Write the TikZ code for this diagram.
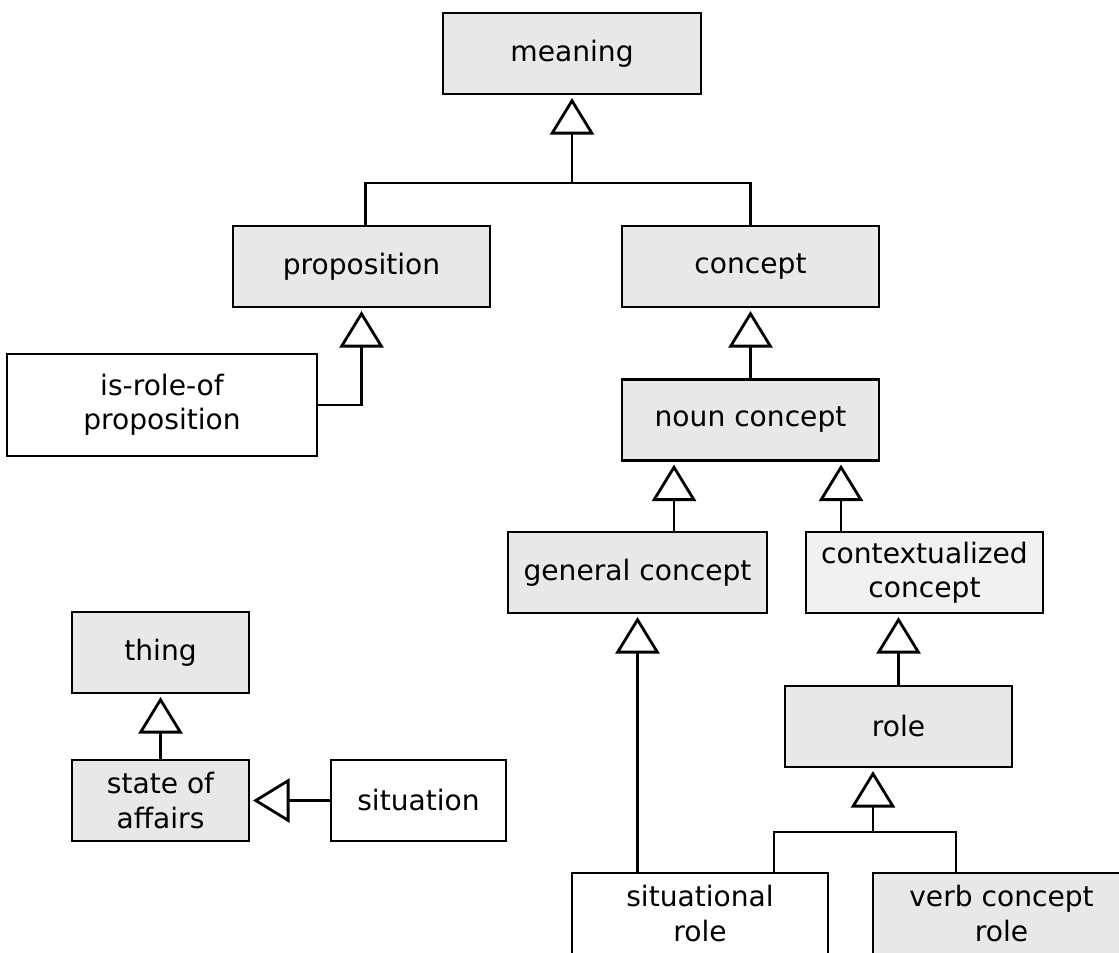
\documentclass[tikz,border=0pt]{standalone}
\usepackage{fontspec}
\setmainfont{DejaVu Sans}
\usetikzlibrary{positioning,arrows.meta}
\definecolor{boxgray}{HTML}{E8E8E8}
\definecolor{boxlight}{HTML}{F1F1F1}

\begin{document}
\begin{tikzpicture}[
  font=\fontsize{16pt}{19.5pt}\selectfont,
  line width=1.6pt,
  box/.style={draw,align=center,minimum height=16.2mm,inner sep=2pt},
  cls/.style={box,fill=boxgray},
  plain/.style={box,fill=white},
  gen/.style={-{Triangle[open,length=7.3mm,width=8.8mm]},shorten >=1.5pt}]
  \useasboundingbox (0,0) rectangle (22.38,19.04);
  \node[cls,minimum width=51.6mm]   (meaning)   at (11.44,17.97) {meaning};
  \node[cls,minimum width=51.4mm]   (prop)      at (7.23,13.71)  {proposition};
  \node[cls,minimum width=51.4mm]   (concept)   at (15.01,13.71) {concept};
  \node[plain,minimum width=62mm,minimum height=20.4mm]
                                    (isrole)    at (3.24,10.94)  {is-role-of\\proposition};
  \node[cls,minimum width=51.4mm]   (noun)      at (15.01,10.64) {noun concept};
  \node[cls,minimum width=51.8mm]   (general)   at (12.75,7.59)  {general concept};
  \node[box,fill=boxlight,minimum width=47.4mm]
                                    (context)   at (18.49,7.59)  {contextualized\\concept};
  \node[cls,minimum width=45.4mm]   (role)      at (17.97,4.51)  {role};
  \node[cls,minimum width=35.4mm]   (thing)     at (3.21,5.99)   {thing};
  \node[cls,minimum width=35.4mm]   (soa)       at (3.21,3.03)   {state of\\affairs};
  \node[plain,minimum width=35mm]   (situation) at (8.37,3.03)   {situation};
  \node[plain,minimum width=51.2mm] (sitrole)   at (14.00,0.77)  {situational\\role};
  \node[cls,minimum width=51.4mm]   (verbrole)  at (20.03,0.77)  {verb concept\\role};
  % generalization sets
  \coordinate (mj) at (11.44,15.38);
  \draw[gen] (mj) -- (meaning.south);
  \draw ([xshift=0.08cm]prop.north) |- (mj) -| (concept.north);
  \coordinate (rj) at (17.46,2.40);
  \coordinate (sj) at ([xshift=1.48cm]sitrole.north);
  \coordinate (vj) at ([xshift=-0.91cm]verbrole.north);
  \draw[gen] (rj) -- (rj |- role.south);
  \draw (sj) |- (rj) -| (vj);
  % single generalizations
  \foreach \a/\b in {noun/concept,soa/thing,role/context}
    \draw[gen] (\a.north) -- (\a.north |- \b.south);
  \draw[gen] (isrole.east) -| (prop.south);
  \draw[gen] (sitrole.north -| general.south) -- (general.south);
  \coordinate (gj) at ([xshift=0.73cm]general.north);
  \coordinate (cj) at ([xshift=-1.67cm]context.north);
  \draw[gen] (gj) -- (gj |- noun.south);
  \draw[gen] (cj) -- (cj |- noun.south);
  \draw[gen] (situation.west) -- (soa.east);
\end{tikzpicture}
\end{document}
